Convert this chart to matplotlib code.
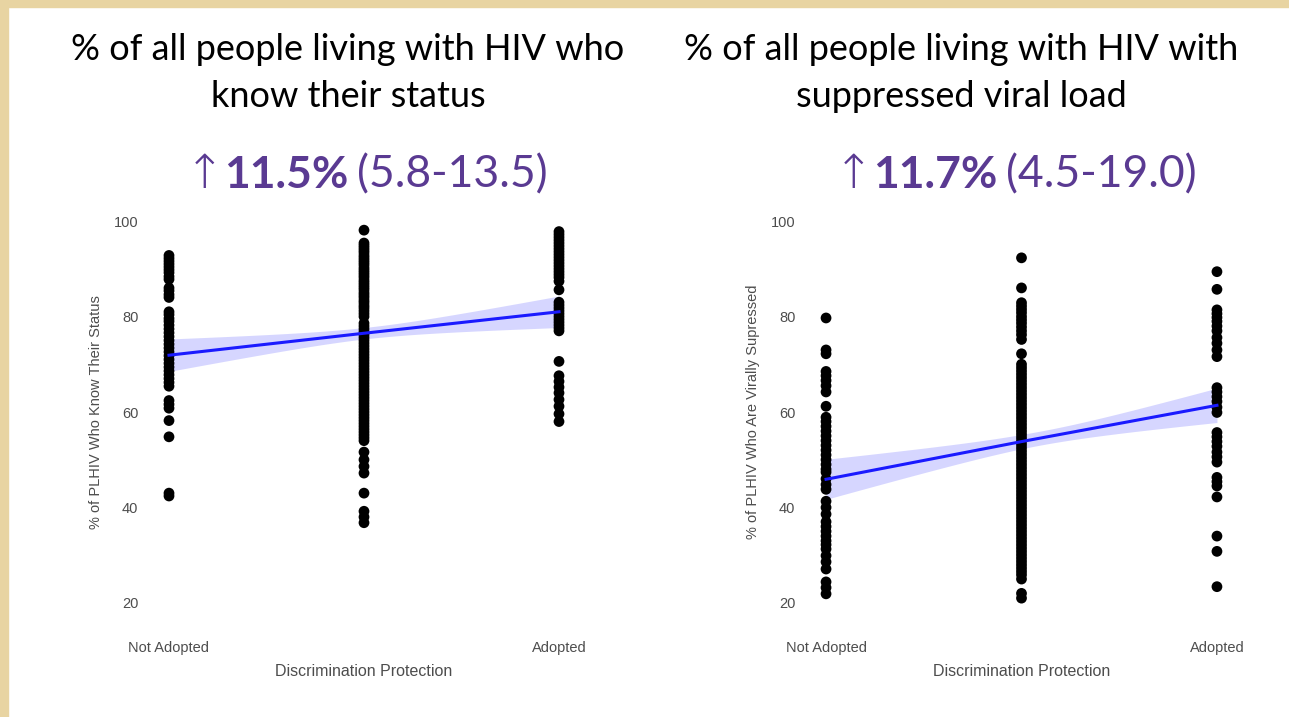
import numpy as np
import matplotlib.pyplot as plt
from matplotlib.patches import Rectangle

W, H = 1289, 717

# x positions: 0 = not adopted, 0.5 = partial, 1 = adopted
x_ticks = [0, 1]
x_tick_labels = ["Not Adopted", "Adopted"]

# % of PLHIV who know their status
status_not = [92.8, 92.2, 91.6, 91.0, 90.4, 89.8, 89.2, 88.4, 87.8, 86.0, 85.4,
              84.6, 84.0, 81.0, 80.4, 79.6, 79.0, 78.2, 77.4, 76.6, 75.8, 75.0,
              74.2, 73.4, 72.6, 71.8, 71.0, 70.2, 69.4, 68.6, 67.8, 67.0, 66.2,
              65.4, 62.4, 61.6, 60.8, 58.2, 54.8, 43.0, 42.4]
status_mid = [98.1, 95.4, 94.9, 94.4, 93.9, 93.4, 92.8, 92.3, 91.8, 91.3, 90.8,
              90.2, 89.7, 89.2, 88.7, 88.2, 87.6, 87.1, 86.6, 86.1, 85.6, 85.0,
              84.5, 84.0, 83.4, 82.9, 82.3, 81.8, 81.2, 80.6, 80.0, 78.6, 78.0,
              77.4, 76.8, 76.2, 75.6, 75.0, 74.4, 73.8, 73.2, 72.6, 72.0, 71.4,
              70.8, 70.2, 69.6, 69.0, 68.4, 67.8, 67.2, 66.6, 66.0, 65.4, 64.8,
              64.2, 63.6, 63.0, 62.4, 61.8, 61.2, 60.6, 60.0, 59.4, 58.8, 58.2,
              57.6, 57.0, 56.4, 55.8, 55.2, 54.6, 54.0, 51.6, 50.0, 48.6, 47.2,
              43.0, 39.2, 38.0, 36.8]
status_adopted = [97.8, 97.2, 96.6, 96.0, 95.4, 94.8, 94.2, 93.6, 93.0, 92.4,
                  91.8, 91.2, 90.6, 90.0, 89.4, 88.8, 88.2, 87.4, 85.6, 83.0,
                  82.4, 81.8, 81.2, 80.6, 80.0, 79.4, 78.8, 78.2, 77.6, 77.0,
                  70.6, 67.6, 66.4, 65.2, 64.0, 62.6, 61.2, 59.6, 58.0]
# fitted line and CI half-width at x = 0, 0.5, 1
status_fit = [71.9, 76.5, 81.0]
status_ci = [3.4, 1.2, 3.3]

# % of PLHIV who are virally suppressed
viral_not = [79.7, 73.0, 72.2, 68.5, 67.6, 66.6, 65.5, 64.2, 61.2, 58.9, 58.0,
             57.0, 56.0, 55.0, 54.0, 53.0, 52.0, 51.0, 50.0, 49.0, 48.0, 47.4,
             46.0, 44.8, 43.8, 41.3, 40.0, 38.6, 37.0, 36.0, 35.0, 34.0, 33.0,
             32.2, 31.3, 29.9, 28.6, 27.1, 24.4, 23.2, 21.9]
viral_mid = [92.3, 86.0, 82.9, 82.2, 81.5, 80.8, 80.0, 79.3, 78.6, 77.8, 77.0,
             76.2, 75.2, 72.2, 70.0, 69.3, 68.6, 67.9, 67.2, 66.5, 65.8, 65.1,
             64.4, 63.7, 63.0, 62.3, 61.6, 60.9, 60.2, 59.5, 58.8, 58.1, 57.4,
             56.7, 56.0, 55.3, 54.6, 53.9, 53.2, 52.5, 51.8, 51.1, 50.4, 49.7,
             49.0, 48.3, 47.6, 46.9, 46.2, 45.5, 44.8, 44.1, 43.4, 42.7, 42.0,
             41.3, 40.6, 39.9, 39.2, 38.5, 37.8, 37.1, 36.4, 35.7, 35.0, 34.3,
             33.6, 32.9, 32.2, 31.5, 30.8, 30.1, 29.4, 28.7, 28.0, 27.3, 26.6,
             25.9, 25.0, 22.0, 21.0]
viral_adopted = [89.4, 85.7, 81.4, 80.6, 79.8, 79.0, 78.0, 77.0, 75.6, 74.4,
                 73.0, 71.6, 65.1, 64.2, 63.2, 62.2, 61.0, 59.9, 55.7, 54.8,
                 53.8, 52.8, 51.6, 50.6, 49.5, 46.3, 45.4, 44.5, 42.2, 34.0,
                 30.8, 23.4]
viral_fit = [45.9, 53.8, 61.4]
viral_ci = [4.2, 1.5, 3.6]

titles = ["% of all people living with HIV who\nknow their status",
          "% of all people living with HIV with\nsuppressed viral load"]
effects = [("11.5%", "(5.8-13.5)"), ("11.7%", "(4.5-19.0)")]
y_labels = ["% of PLHIV Who Know Their Status",
            "% of PLHIV Who Are Virally Supressed"]
x_label = "Discrimination Protection"

PURPLE = "#5a3a92"
GREY = "#4d4d4d"
BEIGE = "#e8d4a2"
HEAD_FONT = ["Lato", "DejaVu Sans"]

plt.rcParams["font.family"] = ["Liberation Sans", "DejaVu Sans"]

fig = plt.figure(figsize=(W / 100, H / 100), dpi=100)
fig.patch.set_facecolor("white")
# beige frame along top and left
fig.add_artist(Rectangle((0, 1 - 7 / H), 1, 7 / H, transform=fig.transFigure,
                         color=BEIGE, zorder=0))
fig.add_artist(Rectangle((0, 0), 8 / W, 1, transform=fig.transFigure,
                         color=BEIGE, zorder=0))


def px_axes(left, right, top, bottom):
    return fig.add_axes([left / W, 1 - bottom / H, (right - left) / W,
                         (bottom - top) / H])


def effect_line(cx, y, big, rng):
    # arrow + bold estimate + interval, centred as one group
    y = 1 - y / H
    parts = [
        fig.text(0, y, "\u2191", fontsize=34, color=PURPLE, va="center",
                 family=["DejaVu Sans"], fontweight="light"),
        fig.text(0, y, big, fontsize=32, color=PURPLE, va="center",
                 family=HEAD_FONT, fontweight="bold"),
        fig.text(0, y, rng, fontsize=32, color=PURPLE, va="center",
                 family=HEAD_FONT),
    ]
    gaps = [0, 0, 8]
    r = fig.canvas.get_renderer()
    widths = [t.get_window_extent(r).width for t in parts]
    total = sum(widths) + sum(gaps)
    x = cx - total / 2
    for t, w, g in zip(parts, widths, gaps):
        x += g
        t.set_x(x / W)
        x += w


panels = [
    dict(cols=[status_not, status_mid, status_adopted], fit=status_fit,
         ci=status_ci, box=(149.5, 578.5, 202, 622), tx=348, ex=366),
    dict(cols=[viral_not, viral_mid, viral_adopted], fit=viral_fit,
         ci=viral_ci, box=(806.5, 1236.5, 202, 622), tx=961, ex=1015),
]
xs = [0, 0.5, 1]

for i, p in enumerate(panels):
    ax = px_axes(*p["box"])
    for x, col in zip(xs, p["cols"]):
        ax.scatter(np.full(len(col), x), col, s=60, color="black",
                   edgecolors="none", zorder=3)

    # smooth CI band through the three half-widths
    xx = np.linspace(0, 1, 80)
    fit = np.interp(xx, xs, p["fit"])
    hw = np.sqrt(np.polyval(np.polyfit(xs, np.square(p["ci"]), 2), xx))
    ax.fill_between(xx, fit - hw, fit + hw, color="#c9c9ff", alpha=0.75,
                    lw=0, zorder=2)
    ax.plot(xx, fit, color="#1a1aff", lw=2.2, zorder=4)

    ax.set_xlim(-0.05, 1.05)
    ax.set_ylim(16, 104)
    ax.set_yticks([20, 40, 60, 80, 100])
    ax.set_xticks(x_ticks)
    ax.set_xticklabels(x_tick_labels)
    ax.tick_params(length=0, labelsize=10.5, colors=GREY, pad=14)
    ax.tick_params(axis="y", pad=8)
    for s in ax.spines.values():
        s.set_visible(False)
    ax.set_xlabel(x_label, fontsize=11.5, color=GREY, labelpad=6)
    ax.set_ylabel(y_labels[i], fontsize=10.5, color=GREY, labelpad=8)

    fig.text(p["tx"] / W, 1 - 73 / H, titles[i], ha="center", va="center",
             fontsize=26, family=HEAD_FONT, linespacing=1.55, color="black")
    effect_line(p["ex"], 175, *effects[i])

fig.savefig("out.png", dpi=100)
